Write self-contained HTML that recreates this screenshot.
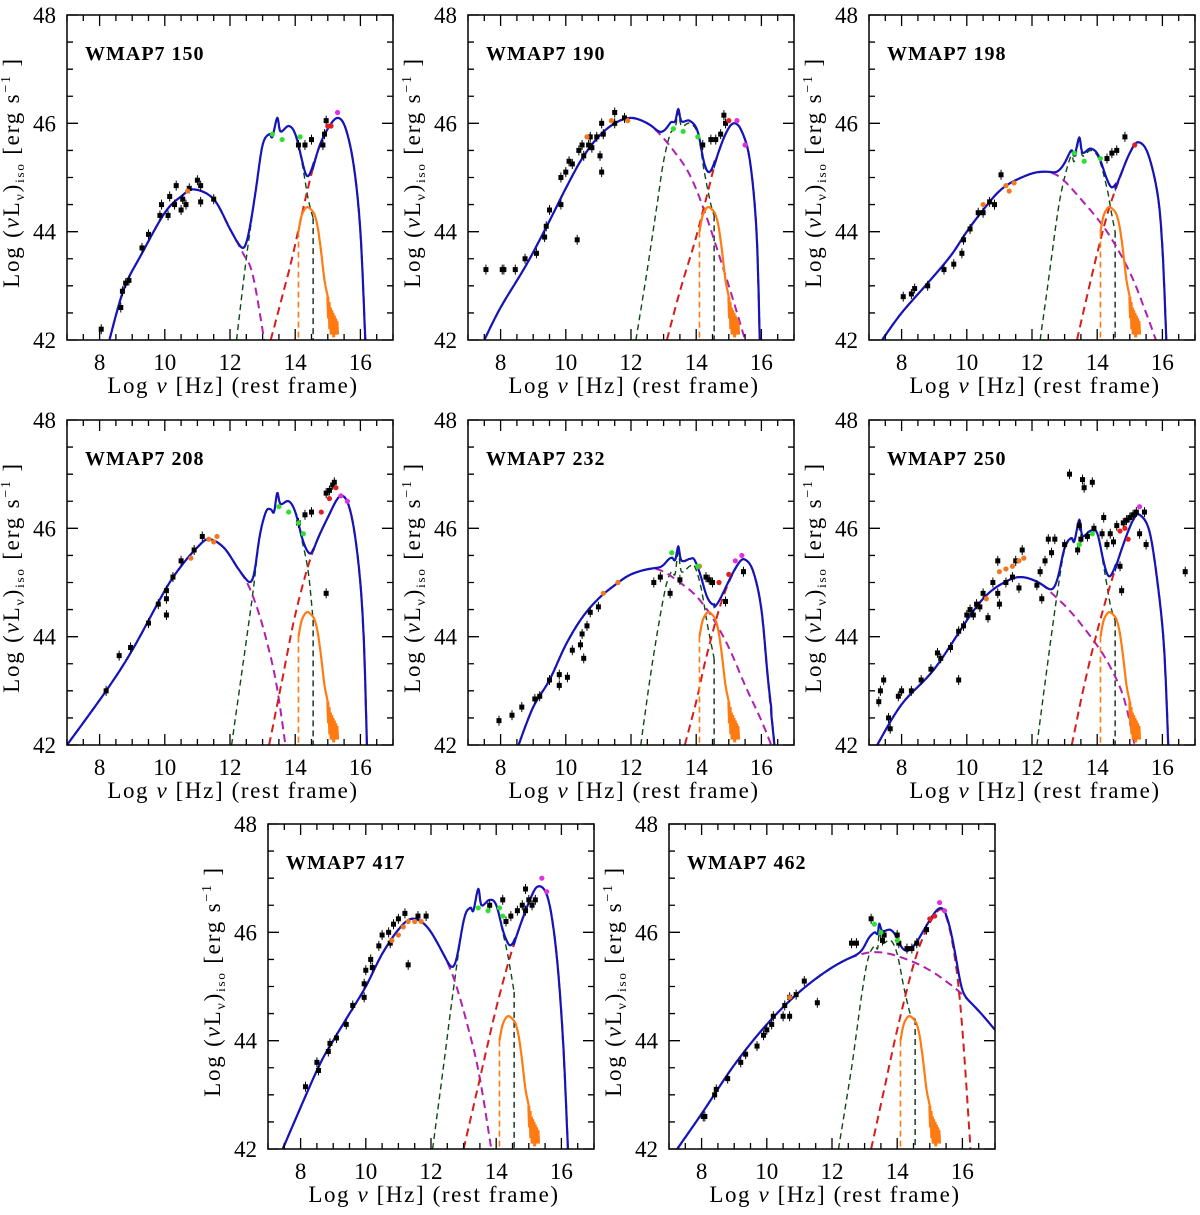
<!DOCTYPE html>
<html><head><meta charset="utf-8"><style>
html,body{margin:0;padding:0;background:#fff;}
svg{display:block;font-family:"Liberation Serif",serif;}
</style></head><body>
<svg id="fig" width="1200" height="1215" viewBox="0 0 1200 1215" xmlns="http://www.w3.org/2000/svg"></svg>
<script>
// ---- data ----
const panelNames = ["WMAP7 150","WMAP7 190","WMAP7 198","WMAP7 208","WMAP7 232","WMAP7 250","WMAP7 417","WMAP7 462"];
const xTicks = [8,10,12,14,16];
const yTicks = [42,44,46,48];

const synch = [
 [[8.3,42],[8.75,42.95],[9.3,43.6],[10,44.35],[10.5,44.65],[10.9,44.78],[11.5,44.6],[12,44.05],[12.4,43.6],[12.7,43.2],[13.05,42]],
 [[7.5,42],[8,42.6],[8.8,43.4],[9.5,44.2],[10,44.8],[10.5,45.35],[11,45.75],[11.5,46.0],[12,46.1],[12.5,46.0],[12.85,45.82],[13.3,45.5],[13.8,45.05],[14.3,44.3],[15.0,43.0],[15.5,42]],
 [[7.4,42],[8,42.5],[8.8,43.05],[9.5,43.55],[10,44.0],[10.5,44.4],[11,44.75],[11.5,44.95],[12.2,45.1],[12.8,45.03],[13.5,44.6],[14.3,44.0],[15.0,43.25],[15.5,42.5],[15.8,42]],
 [[7.0,42],[8.2,43.0],[9,43.75],[10,44.85],[10.5,45.3],[11,45.65],[11.35,45.8],[11.8,45.65],[12.2,45.3],[12.6,44.9],[13.0,44.2],[13.4,43.2],[13.7,42]],
 [[8.55,42],[9,42.7],[9.5,43.2],[10,43.85],[10.5,44.35],[11,44.7],[11.5,44.95],[12,45.15],[12.6,45.25],[13.0,45.2],[13.5,45.0],[14,44.75],[14.5,44.35],[15,43.8],[15.5,43.1],[16,42.45],[16.3,42]],
 [[7.25,42],[8,42.75],[9,43.4],[10,44.3],[10.5,44.7],[11,44.95],[11.6,45.1],[12.2,45.0],[12.7,44.75],[13.2,44.45],[13.8,44.0],[14.3,43.55],[14.8,42.9],[15.15,42]],
 [[7.45,42],[8.5,43.45],[9,44.0],[9.5,44.5],[10,45.0],[10.5,45.6],[11,46.05],[11.4,46.25],[11.8,46.15],[12.2,45.8],[12.7,45.15],[13.2,44.1],[13.5,43.3],[13.85,42]],
 [[7.25,42],[8,42.65],[9,43.55],[10,44.3],[11,44.9],[12,45.35],[12.8,45.58],[13.5,45.63],[14.3,45.5],[15.0,45.3],[15.6,45.05],[16.0,44.85],[16.5,44.55],[17,44.2]]
];
const torus = [
 [[12.2,42],[12.5,43.5],[12.8,44.8],[13.0,45.6],[13.2,45.8],[13.3,45.75],[13.45,46.1],[13.55,45.85],[13.8,45.95],[14.0,45.8],[14.2,45.3],[14.4,44.6],[14.55,44.25]],
 [[12.15,42],[12.5,43.3],[12.8,44.5],[13.0,45.3],[13.2,45.8],[13.35,45.9],[13.45,46.2],[13.55,45.95],[13.8,46.0],[14.05,45.8],[14.25,45.1],[14.45,44.5],[14.55,44.3]],
 [[12.25,42],[12.55,43.3],[12.8,44.4],[13.0,45.0],[13.2,45.4],[13.3,45.3],[13.45,45.7],[13.55,45.4],[13.8,45.5],[14.05,45.35],[14.3,44.8],[14.45,44.3],[14.55,44.0]],
 [[12.05,42],[12.4,43.5],[12.7,44.8],[12.9,45.8],[13.1,46.3],[13.25,46.35],[13.35,46.3],[13.45,46.65],[13.55,46.45],[13.8,46.5],[14.0,46.3],[14.2,45.8],[14.4,45.2],[14.55,44.3]],
 [[12.3,42],[12.6,43.3],[12.9,44.4],[13.1,45.0],[13.25,45.2],[13.35,45.15],[13.45,45.55],[13.55,45.2],[13.8,45.3],[13.95,45.3],[14.15,44.9],[14.35,44.2],[14.55,43.6]],
 [[12.15,42],[12.5,43.6],[12.8,44.9],[13.0,45.6],[13.2,45.8],[13.3,45.75],[13.45,46.15],[13.55,45.85],[13.8,45.95],[14.0,45.9],[14.2,45.3],[14.4,44.6],[14.55,44.3]],
 [[12.05,42],[12.4,43.6],[12.7,45.0],[13.0,46.2],[13.2,46.45],[13.3,46.4],[13.45,46.8],[13.55,46.5],[13.8,46.6],[14.0,46.5],[14.2,46.0],[14.35,45.6],[14.55,44.9]],
 [[12.2,42],[12.6,43.5],[12.9,44.8],[13.1,45.5],[13.3,45.75],[13.4,45.7],[13.45,46.0],[13.55,45.8],[13.8,45.85],[14.0,45.6],[14.2,45.0],[14.4,44.5],[14.55,44.4]]
];
const ic = [
 [[13.25,42],[13.6,42.8],[13.9,43.5],[14.35,44.7],[14.7,45.5],[15.0,45.9],[15.3,46.1],[15.55,45.9],[15.8,45.2],[16.0,44.0],[16.15,42]],
 [[13.1,42],[13.5,42.9],[13.95,43.8],[14.3,44.6],[14.6,45.3],[14.9,45.8],[15.15,46.0],[15.4,45.85],[15.65,45.3],[15.85,44.0],[15.95,42]],
 [[13.38,42],[13.8,43.1],[14.3,44.3],[14.7,45.0],[15.0,45.45],[15.25,45.65],[15.55,45.45],[15.85,44.7],[16.0,43.7],[16.12,42]],
 [[13.2,42],[13.6,43.2],[14.0,44.4],[14.5,45.5],[15.0,46.2],[15.4,46.6],[15.7,46.3],[15.95,45.3],[16.1,44.0],[16.2,42]],
 [[13.65,42],[14.0,42.8],[14.3,43.6],[14.7,44.5],[15.0,45.0],[15.3,45.35],[15.5,45.42],[15.75,45.2],[16.0,44.5],[16.2,43.2],[16.4,42]],
 [[13.22,42],[13.6,43.1],[14.0,44.1],[14.4,44.95],[14.8,45.7],[15.1,46.15],[15.3,46.25],[15.6,45.95],[15.85,45.0],[16.05,43.8],[16.18,42]],
 [[13.0,42],[13.5,43.3],[14.0,44.6],[14.5,45.7],[15.0,46.55],[15.3,46.85],[15.6,46.6],[15.85,45.6],[16.05,44.0],[16.2,42]],
 [[13.2,42],[13.6,43.1],[14.0,44.2],[14.5,45.4],[14.9,46.05],[15.3,46.42],[15.55,46.2],[15.8,45.4],[16.0,44.2],[16.25,42]]
];
const disk = [[14.1,44.0],[14.2,44.3],[14.35,44.45],[14.5,44.4],[14.6,44.3],[14.7,44.05],[14.8,43.6],[14.9,43.1],[15.0,42.8]];
const diskNoise = [[15.0,42.8],[15.02,42.4],[15.04,42.7],[15.06,42.2],[15.08,42.6],[15.1,42.1],[15.12,42.55],[15.14,42.15],[15.16,42.5],[15.18,42.05],[15.2,42.45],[15.22,42.1],[15.24,42.4],[15.26,42.2],[15.28,42.35],[15.3,42.1]];

const blackPts = [
 [[8.05,42.2],[8.65,42.6],[8.7,42.9],[8.8,43.05],[8.9,43.1],[9.3,43.7],[9.5,43.95],[9.85,44.3],[9.9,44.5],[10.1,44.3],[10.15,44.65],[10.3,44.5],[10.35,44.85],[10.5,44.4],[10.55,44.6],[10.65,44.5],[10.75,44.8],[11.0,44.95],[11.1,44.85],[11.1,44.55],[11.5,44.6],[14.1,45.6],[14.3,45.6],[14.5,45.7],[14.85,45.6],[14.95,46.05],[14.9,45.8]],
 [[7.55,43.3],[8.05,43.3],[8.1,43.3],[8.45,43.3],[8.75,43.5],[9.1,43.6],[9.35,43.9],[9.4,44.1],[9.5,44.4],[9.85,44.5],[9.85,45.0],[10.0,45.1],[10.1,45.3],[10.2,45.25],[10.4,45.5],[10.5,45.6],[10.55,45.4],[10.7,45.6],[10.75,45.75],[10.8,45.55],[10.95,45.75],[11.05,45.4],[11.1,45.1],[11.15,45.8],[11.1,46.0],[11.5,46.2],[11.5,46.0],[11.8,46.1],[10.35,43.85],[14.2,45.6],[14.45,45.7],[14.6,45.7],[14.75,45.8],[14.85,46.15],[14.9,46.0]],
 [[8.05,42.8],[8.3,42.85],[8.4,42.95],[8.8,43.0],[9.3,43.3],[9.6,43.4],[9.85,43.6],[9.9,43.85],[10.1,44.05],[10.35,44.35],[10.5,44.35],[10.7,44.55],[10.85,44.5],[11.05,45.05],[14.3,45.35],[14.45,45.45],[14.6,45.5],[14.85,45.75]],
 [[8.2,43.0],[8.6,43.65],[8.95,43.8],[9.5,44.25],[9.8,44.6],[10.05,44.7],[10.05,44.4],[10.05,44.85],[10.25,45.1],[10.5,45.4],[10.9,45.6],[11.15,45.85],[14.1,46.1],[14.3,46.25],[14.5,46.3],[14.95,46.65],[15.05,46.7],[15.15,46.8],[15.2,46.85],[14.95,44.8]],
 [[7.95,42.45],[8.35,42.55],[8.65,42.7],[9.05,42.85],[9.2,42.9],[9.5,43.2],[9.8,43.1],[9.8,43.3],[10.05,43.25],[10.2,43.75],[10.45,43.85],[10.5,44.05],[10.55,43.6],[10.65,44.2],[10.75,44.45],[11.0,44.55],[12.7,45.0],[12.9,45.1],[13.2,44.8],[13.5,45.05],[14.3,45.1],[14.4,45.05],[14.5,45.0],[14.9,44.65],[15.45,45.2]],
 [[7.3,42.8],[7.35,43.0],[7.45,43.2],[7.6,42.5],[7.65,42.3],[7.9,42.9],[8.0,43.0],[8.3,43.0],[8.6,43.2],[8.9,43.4],[9.1,43.7],[9.2,43.6],[9.5,43.8],[9.75,43.2],[9.75,44.1],[9.9,44.2],[10.0,44.4],[10.1,44.5],[10.2,44.4],[10.3,44.6],[10.4,44.55],[10.5,44.8],[10.65,44.35],[10.8,45.0],[10.95,44.8],[10.95,45.4],[11.0,44.6],[11.2,45.0],[11.4,45.1],[11.5,45.4],[11.6,44.9],[11.7,45.6],[12.15,44.95],[12.25,45.2],[12.3,44.7],[12.4,45.4],[12.5,45.8],[12.6,45.55],[12.7,45.8],[13.0,45.7],[13.15,47.0],[13.4,45.6],[13.45,46.05],[13.5,45.8],[13.55,46.9],[13.6,46.75],[13.7,45.85],[13.85,46.85],[13.9,46.0],[14.15,45.9],[14.2,46.2],[14.3,45.7],[14.4,45.9],[14.5,45.75],[14.6,46.05],[14.7,45.3],[14.8,46.1],[14.9,46.15],[15.0,46.2],[15.1,46.25],[15.2,46.3],[15.3,45.9],[15.45,46.3],[15.5,45.7],[14.75,44.85],[16.7,45.2]],
 [[8.15,43.15],[8.5,43.6],[8.55,43.45],[8.85,43.8],[8.9,43.95],[9.1,44.05],[9.4,44.3],[9.6,44.65],[9.95,44.8],[9.95,45.05],[10.0,45.3],[10.15,45.5],[10.2,45.35],[10.4,45.75],[10.5,45.95],[10.7,46.0],[10.75,45.8],[10.85,46.15],[11.0,46.25],[11.2,46.35],[11.3,45.4],[11.6,46.3],[11.85,46.3],[13.8,46.5],[14.2,46.6],[14.3,46.2],[14.45,46.3],[14.65,46.4],[14.8,46.5],[14.9,46.4],[15.0,46.6],[15.1,46.5],[15.2,46.6],[14.9,46.8]],
 [[8.05,42.6],[8.1,42.6],[8.4,43.0],[8.45,43.1],[8.8,43.3],[9.2,43.6],[9.35,43.75],[9.7,43.9],[9.9,44.1],[10.0,44.2],[10.15,44.3],[10.2,44.45],[10.5,44.45],[10.55,44.65],[10.7,44.45],[10.7,44.8],[10.9,44.85],[11.15,45.1],[11.55,44.7],[12.6,45.8],[12.75,45.8],[13.2,46.25],[13.55,45.85],[13.6,45.95],[14.0,45.95],[14.05,45.8],[14.3,45.7],[14.45,45.7],[14.6,45.8],[14.9,46.05]]
];
const greenPts = [[[13.3,45.8],[13.6,45.7],[14.15,45.75]],[[13.3,45.9],[13.6,45.85],[14.05,45.75]],[[13.3,45.45],[13.6,45.3],[14.1,45.35]],[[13.5,46.4],[13.8,46.3],[14.1,46.1],[14.25,45.9]],[[13.25,45.55],[14.05,45.3]],[[13.45,45.7],[13.85,45.9]],[[13.45,46.45],[13.75,46.4],[14.1,46.45],[14.2,46.3]],[[13.3,46.15],[13.5,46.0],[14.0,45.85]]];
const orangePts = [[[10.7,44.75]],[[10.65,45.75],[11.4,46.05],[11.9,46.05]],[[10.5,44.5],[11.2,44.85],[11.3,44.75],[11.45,44.9]],[[10.8,45.45],[11.35,45.8],[11.5,45.75],[11.6,45.85]],[[11.15,44.8],[11.6,45.0],[14.1,45.3]],[[10.6,44.7],[11.0,45.2],[11.2,45.25],[11.4,45.3],[11.6,45.4],[11.75,45.45]],[[10.8,45.85],[11.0,45.95],[11.15,46.1],[11.3,46.2],[11.5,46.2],[11.7,46.2]],[[10.7,44.8]]];
const redPts = [[[15.0,45.95],[15.1,45.95]],[[15.0,46.05]],[[15.15,45.6]],[[14.8,46.3],[15.05,46.55],[15.25,46.75]],[[14.7,45.0],[15.0,45.15]],[[14.7,45.95],[14.85,46.0],[14.95,45.8]],[],[[15.0,46.25],[15.15,46.3]]];
const magentaPts = [[[15.3,46.2]],[[15.25,46.05],[15.5,45.6]],[],[[15.4,46.6],[15.6,46.5]],[[15.2,45.4],[15.4,45.5]],[[15.3,46.4]],[[15.4,47.0],[15.55,46.75]],[[15.3,46.55],[15.45,46.4]]];

// ---- layout ----
const boxes = [[67,15],[468,15],[869,15],[67,420],[468,420],[869,420],[268,824],[669,824]];
const W = 326, H = 325, XMIN = 7, XMAX = 17, YMIN = 42, YMAX = 48;
const NS = "http://www.w3.org/2000/svg";
const svg = document.getElementById('fig');
function mk(tag, attrs, parent){const e=document.createElementNS(NS,tag);for(const k in attrs)e.setAttribute(k,attrs[k]);parent.appendChild(e);return e;}
function dense(pts){
  const out=[];
  for(let i=0;i<pts.length-1;i++){
    const p0=pts[Math.max(0,i-1)],p1=pts[i],p2=pts[i+1],p3=pts[Math.min(pts.length-1,i+2)];
    for(let s=0;s<8;s++){const t=s/8,t2=t*t,t3=t2*t;
      const f=(a,b,c,d)=>0.5*((2*b)+(-a+c)*t+(2*a-5*b+4*c-d)*t2+(-a+3*b-3*c+d)*t3);
      out.push([f(p0[0],p1[0],p2[0],p3[0]),f(p0[1],p1[1],p2[1],p3[1])]);}
  }
  out.push(pts[pts.length-1]);return out;
}
function evalAt(d,x){
  if(x<d[0][0]||x>d[d.length-1][0])return null;
  for(let i=0;i<d.length-1;i++){const a=d[i],b=d[i+1];
    if(x>=a[0]&&x<=b[0]){if(b[0]===a[0])return a[1];return a[1]+(b[1]-a[1])*(x-a[0])/(b[0]-a[0]);}}
  return null;
}

boxes.forEach((b,pi)=>{
  const L=b[0],T=b[1];
  const sx=v=>L+(v-XMIN)/(XMAX-XMIN)*W;
  const sy=v=>T+(YMAX-v)/(YMAX-YMIN)*H;
  const g=mk('g',{},svg);
  
  
  const cid='clip'+pi;
  const cp=mk('clipPath',{id:cid},g);mk('rect',{x:L,y:T,width:W,height:H},cp);
  const plot=mk('g',{'clip-path':'url(#'+cid+')'},g);
  
  
  const pathOf=pts=>pts.map((p,i)=>(i?'L':'M')+sx(p[0]).toFixed(1)+','+sy(p[1]).toFixed(1)).join('');

  const dS=dense(synch[pi]),dT=dense(torus[pi]),dI=dense(ic[pi]),dD=dense(disk);
  let e;
  e=mk('path',{d:pathOf(dT),fill:'none',stroke:'#0d4a12','stroke-width':1.4,'stroke-dasharray':'6,4'},plot);
  
  const tl=torus[pi][torus[pi].length-1];
  e=mk('line',{x1:sx(tl[0]),y1:sy(tl[1]),x2:sx(tl[0]),y2:sy(YMIN),stroke:'#0d2a12','stroke-width':1.4,'stroke-dasharray':'6,4'},plot);
  
  e=mk('path',{d:pathOf(dS),fill:'none',stroke:'#b020b0','stroke-width':2,'stroke-dasharray':'8,5'},plot);
  
  e=mk('path',{d:pathOf(dI),fill:'none',stroke:'#d81c1c','stroke-width':2,'stroke-dasharray':'8,5'},plot);
  
  e=mk('line',{x1:sx(disk[0][0]),y1:sy(disk[0][1]),x2:sx(disk[0][0]),y2:sy(YMIN),stroke:'#ff7a10','stroke-width':1.6,'stroke-dasharray':'6,4'},plot);
  
  e=mk('path',{d:pathOf(dD),fill:'none',stroke:'#ff7a10','stroke-width':2.2},plot);
  
  e=mk('path',{d:pathOf(diskNoise),fill:'none',stroke:'#ff7a10','stroke-width':3},plot);
  

  let dstr='',pen=false;
  for(let x=XMIN;x<=XMAX+1e-9;x+=0.01){
    let s=0;
    [dS,dT,dI].forEach(d=>{const v=evalAt(d,x);if(v!==null)s+=Math.pow(10,v-40);});
    if(s>0){const y=Math.log10(s)+40;dstr+=(pen?'L':'M')+sx(x).toFixed(1)+','+sy(Math.max(y,41.8)).toFixed(1);pen=true;}
    else pen=false;
  }
  e=mk('path',{d:dstr,fill:'none',stroke:'#1414b8','stroke-width':2.2},plot);
  

  const dots=(arr,col,name)=>arr.forEach(p=>{
    const c=mk('circle',{cx:sx(p[0]),cy:sy(p[1]),r:2.6,fill:col},plot);
    });
  blackPts[pi].forEach(p=>{
    const x=sx(p[0]),y=sy(p[1]);
    const l=mk('line',{x1:x,y1:y-5,x2:x,y2:y+5,stroke:'#000','stroke-width':1},plot);
    
    const r=mk('rect',{x:x-2.5,y:y-2.5,width:5,height:5,fill:'#000'},plot);
    
  });
  dots(orangePts[pi],'#f07820','orange-point');
  dots(greenPts[pi],'#30e030','green-point');
  dots(redPts[pi],'#e02020','red-point');
  dots(magentaPts[pi],'#e030e0','magenta-point');

  e=mk('rect',{x:L,y:T,width:W,height:H,fill:'none',stroke:'#000','stroke-width':1.5},g);
  
  let tk='';
  for(let v=XMIN;v<=XMAX+1e-9;v+=0.5){const x=sx(v),len=(Math.abs(v%2)<1e-9)?11:6;tk+=`M${x},${T+H}v${-len}M${x},${T}v${len}`;}
  for(let v=YMIN;v<=YMAX+1e-9;v+=0.5){const y=sy(v),len=(Math.abs(v%2)<1e-9)?11:6;tk+=`M${L},${y}h${len}M${L+W},${y}h${-len}`;}
  e=mk('path',{d:tk,stroke:'#000','stroke-width':1.3,fill:'none'},g);
  
  xTicks.forEach(v=>{const t=mk('text',{x:sx(v),y:T+H+30,'font-size':23,'text-anchor':'middle'},g);t.textContent=v;
    });
  yTicks.forEach(v=>{const t=mk('text',{x:L-11,y:sy(v)+8,'font-size':23,'text-anchor':'end'},g);t.textContent=v;
    });
  const tt=mk('text',{x:L+18,y:T+45,'font-size':20,'font-weight':'bold','letter-spacing':'1'},g);tt.textContent=panelNames[pi];
  
  const xl=mk('text',{x:L+W/2+3,y:T+H+53,'font-size':23,'text-anchor':'middle','letter-spacing':'1.6'},g);
  xl.innerHTML='Log <tspan font-style="italic">ν</tspan> [Hz] (rest frame)';
  
  const cx=L-48,cy=T+H/2-5;
  const yl=mk('text',{x:cx,y:cy,'font-size':23,'text-anchor':'middle','letter-spacing':'1.8',transform:`rotate(-90 ${cx} ${cy})`},g);
  yl.innerHTML='Log (<tspan font-style="italic">ν</tspan>L<tspan font-size="14" dy="5">ν</tspan><tspan dy="-5">)</tspan><tspan font-size="13" dy="5">iso</tspan><tspan dy="-5"> [erg s</tspan><tspan font-size="14" dy="-9">−1</tspan><tspan dy="9"> ]</tspan>';
  
});
</script>
</body></html>
